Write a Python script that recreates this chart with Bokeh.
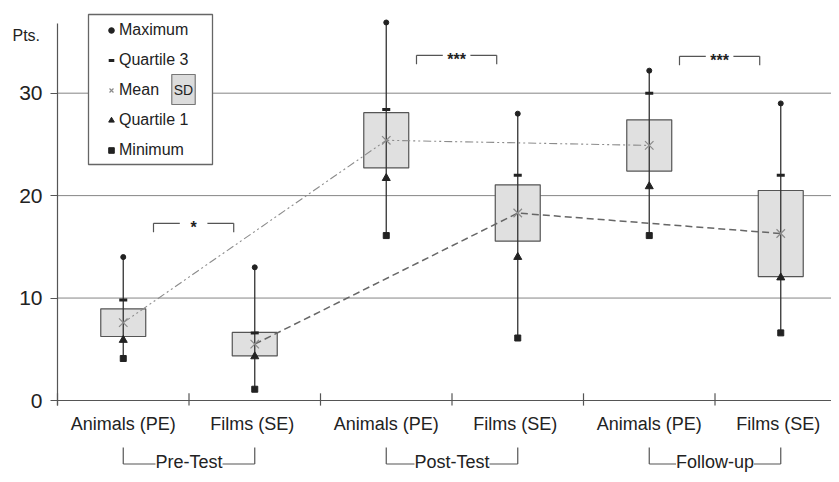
from bokeh.plotting import figure
from bokeh.models import (Range1d, FixedTicker, Legend, LegendItem, Label, LabelSet,
                          ColumnDataSource, BoxAnnotation)
from bokeh.core.properties import value
from bokeh.embed import file_html
from bokeh.resources import INLINE

# ---- data ----
categories = ["Animals (PE)", "Films  (SE)", "Animals (PE)", "Films  (SE)", "Animals (PE)", "Films  (SE)"]
phases = ["Pre-Test", "Post-Test", "Follow-up"]
maximum = [14.0, 13.0, 36.9, 28.0, 32.2, 29.0]
quartile3 = [9.8, 6.6, 28.4, 22.0, 30.0, 22.0]
mean = [7.6, 5.5, 25.4, 18.3, 24.9, 16.3]
sd = [1.35, 1.15, 2.7, 2.75, 2.5, 4.2]
quartile1 = [5.9, 4.3, 21.7, 14.0, 20.9, 12.0]
minimum = [4.1, 1.1, 16.1, 6.1, 16.1, 6.6]
sig_labels = ["*", "***", "***"]
sig_y = [17.3, 33.7, 33.6]
y_ticks = [0, 10, 20, 30]
y_unit = "Pts."
legend_labels = ["Maximum", "Quartile 3", "Mean", "Quartile 1", "Minimum"]

FONT = "Liberation Sans"
AX = "#555555"
n = len(categories)
xs = [i + 0.5 for i in range(n)]
lo = [m - s for m, s in zip(mean, sd)]
hi = [m + s for m, s in zip(mean, sd)]

W, H = 831, 474
PX_X, PX_Y = 131.5, 10.244          # pixels per category / per point
X0, Y0 = 57, 400                     # canvas position of the data origin
p = figure(width=W, height=H,
           x_range=Range1d(-X0 / PX_X, (W - X0) / PX_X),
           y_range=Range1d((Y0 - H) / PX_Y, Y0 / PX_Y),
           output_backend="svg", toolbar_location=None, title=None,
           min_border_left=0, min_border_right=0, min_border_top=0, min_border_bottom=0,
           x_axis_location=None)
p.outline_line_color = None
p.background_fill_color = "white"
p.xgrid.grid_line_color = None
p.ygrid.grid_line_color = None

# y axis pinned at x = 0 (ticks + labels); axis line drawn separately
p.yaxis.fixed_location = 0
p.yaxis.ticker = FixedTicker(ticks=y_ticks)
p.yaxis.axis_line_color = None
p.yaxis.major_tick_out = 7
p.yaxis.major_tick_in = 0
p.yaxis.major_tick_line_color = AX
p.yaxis.major_tick_line_width = 1.2
p.yaxis.minor_tick_line_color = None
p.yaxis.major_label_text_font = FONT
p.yaxis.major_label_text_font_size = "21px"
p.yaxis.major_label_text_color = "#222222"
p.yaxis.major_label_standoff = 8

# horizontal grid lines at the y ticks (start at the axis)
gy = [t for t in y_ticks if t > 0]
p.segment(x0=[0] * len(gy), y0=gy, x1=[n] * len(gy), y1=gy, line_color="#858585", line_width=1)

# axis lines and category boundary ticks
p.segment(x0=[0], y0=[-0.5], x1=[0], y1=[36.8], line_color=AX, line_width=1.2)
p.segment(x0=[0], y0=[0], x1=[n], y1=[0], line_color=AX, line_width=1.2)
bounds = list(range(n + 1))
p.segment(x0=bounds, y0=[0.7] * len(bounds), x1=bounds, y1=[-0.5] * len(bounds),
          line_color=AX, line_width=1.2)

# SD boxes
p.vbar(x=xs, width=0.342, bottom=lo, top=hi, fill_color="#e0e0e0", line_color=AX, line_width=1.2)
# min-max whiskers
p.segment(x0=xs, y0=minimum, x1=xs, y1=maximum, line_color="#333333", line_width=1.3)

# mean connecting lines
p.line(xs[0::2], mean[0::2], line_color="#8c8c8c", line_dash="8 3 2 3 2 3", line_width=1.1)
p.line(xs[1::2], mean[1::2], line_color="#666666", line_dash="7 4", line_width=1.5)

# markers
r_max = p.scatter(xs, maximum, marker="circle", size=5, color="#222222")
r_q3 = p.scatter(xs, quartile3, marker="dash", size=8, line_width=3, line_color="#222222")
r_mean = p.scatter(xs, mean, marker="x", size=12, line_width=1.2, line_color="#8a8a8a")
r_q1 = p.scatter(xs, quartile1, marker="triangle", size=8, color="#222222")
r_min = p.scatter(xs, minimum, marker="square", size=6, color="#222222")

# category labels
p.text(x=xs, y=[-2.25] * n, text=categories, text_font=value(FONT), text_font_size="18px",
       text_color="#222222", text_align="center", text_baseline="middle")

# phase brackets below the axis
gx = [2 * i + 1 for i in range(len(phases))]
gl = [g - 0.5 for g in gx]
gr = [g + 0.5 for g in gx]
k = len(phases)
p.segment(x0=gl, y0=[-4.6] * k, x1=gl, y1=[-6.2] * k, line_color=AX, line_width=1.2)
p.segment(x0=gr, y0=[-4.6] * k, x1=gr, y1=[-6.2] * k, line_color=AX, line_width=1.2)
p.segment(x0=gl, y0=[-6.2] * k, x1=gr, y1=[-6.2] * k, line_color=AX, line_width=1.2)
phase_src = ColumnDataSource(dict(x=gx, y=[-6.0] * k, text=phases))
p.add_layout(LabelSet(x="x", y="y", text="text", source=phase_src, text_align="center",
                      text_baseline="middle", text_font=value(FONT), text_font_size="18px",
                      text_color="#222222", background_fill_color="white"))

# significance brackets
s0 = [2 * i + 0.73 for i in range(k)]
s1 = [2 * i + 1.34 for i in range(k)]
sc = [2 * i + 1.035 for i in range(k)]
sy_low = [y - 0.88 for y in sig_y]
p.segment(x0=s0, y0=sy_low, x1=s0, y1=sig_y, line_color=AX, line_width=1.2)
p.segment(x0=s1, y0=sy_low, x1=s1, y1=sig_y, line_color=AX, line_width=1.2)
p.segment(x0=s0, y0=sig_y, x1=[c - 0.105 for c in sc], y1=sig_y, line_color=AX, line_width=1.2)
p.segment(x0=[c + 0.105 for c in sc], y0=sig_y, x1=s1, y1=sig_y, line_color=AX, line_width=1.2)
p.text(x=sc, y=sig_y, text=sig_labels, text_font=value(FONT), text_font_size="16px",
       text_font_style="bold", text_color="#222222", text_align="center",
       text_baseline="alphabetic", y_offset=4)

# legend frame (screen units, measured from the frame's bottom-left)
p.add_layout(BoxAnnotation(left=88, right=212, top=H - 14, bottom=H - 164,
                           left_units="screen", right_units="screen",
                           top_units="screen", bottom_units="screen",
                           fill_color="white", fill_alpha=1.0,
                           line_color="#666666", line_width=1.3, line_alpha=1.0))

items = [LegendItem(label=lab, renderers=[r]) for lab, r in
         zip(legend_labels, [r_max, r_q3, r_mean, r_q1, r_min])]
legend = Legend(items=items, location=(103, H - 160), padding=5, spacing=10,
                glyph_width=16, glyph_height=14, label_height=20, label_width=20,
                label_standoff=0, margin=0,
                label_text_font=FONT, label_text_font_size="16px", label_text_color="#222222",
                border_line_color=None, background_fill_alpha=0.0)
p.add_layout(legend)

# "SD" box next to the Mean legend entry
p.add_layout(Label(x=183, y=H - 89, x_units="screen", y_units="screen", text="SD",
                   text_align="center", text_baseline="middle", text_font=FONT,
                   text_font_size="14px", text_color="#222222", level="overlay",
                   background_fill_color="#dcdcdc", border_line_color="#777777",
                   border_line_width=1.2, padding=(2, 7)))

p.add_layout(Label(x=12, y=H - 35, x_units="screen", y_units="screen", text=y_unit,
                   text_align="left", text_baseline="middle", text_font=FONT,
                   text_font_size="16px", text_color="#222222", level="overlay"))

open("out.html", "w").write(file_html(p, INLINE))
